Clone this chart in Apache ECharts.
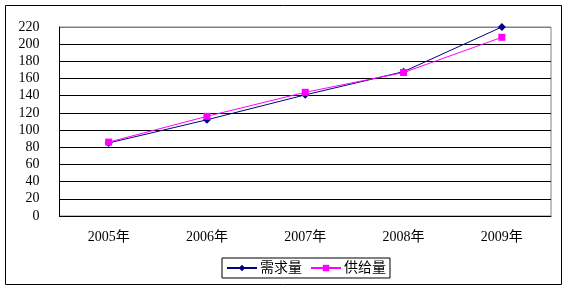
<!DOCTYPE html>
<html><head><meta charset="utf-8">
<script src="https://cdn.jsdelivr.net/npm/echarts@6/dist/echarts.min.js"></script>
<style>html,body{margin:0;padding:0;background:#fff}#c{width:568px;height:290px}</style>
</head><body><div id="c"></div>
<script>
const categories = ['2005年','2006年','2007年','2008年','2009年'];
const demand = [85, 112, 141, 168, 220];
const supply = [86, 116, 144, 167, 208];
const yTicks = {min: 0, max: 220, interval: 20};
const FONT = "'Liberation Serif','Noto Sans CJK SC',serif";
const gridColors = ['#000','#000','#000','#000','#000','#000','#000','#000','#000','#000','#000','#808080'];
const chart = echarts.init(document.getElementById('c'), null, {renderer: 'canvas'});
chart.setOption({
  animation: false,
  backgroundColor: '#fff',
  graphic: [{type: 'rect', shape: {x: 5.5, y: 5.5, width: 556, height: 279}, style: {fill: 'none', stroke: '#000', lineWidth: 1}, z: -1}],
  grid: {left: 59.5, right: 17, top: 27, bottom: 74, show: true, borderColor: '#808080', borderWidth: 1, containLabel: false},
  legend: {
    left: 222, top: 258, orient: 'horizontal',
    borderColor: '#000', borderWidth: 1, borderRadius: 0,
    padding: [3, 4, 3, 4], itemGap: 8, itemWidth: 30, itemHeight: 8,
    textStyle: {fontFamily: FONT, fontSize: 14, color: '#000', padding: [0,0,0,-2]},
    data: ['需求量', '供给量']
  },
  xAxis: {
    type: 'category', data: categories, boundaryGap: true,
    axisLine: {lineStyle: {color: '#000', width: 1}},
    axisTick: {inside: true, length: 4, lineStyle: {color: '#000'}},
    axisLabel: {fontFamily: FONT, fontSize: 14, color: '#000', margin: 14},
    splitLine: {show: false}
  },
  yAxis: {
    type: 'value', min: yTicks.min, max: yTicks.max, interval: yTicks.interval,
    axisLine: {show: true, lineStyle: {color: '#000', width: 1}},
    axisTick: {show: false},
    axisLabel: {fontFamily: FONT, fontSize: 14, color: '#000', margin: 20},
    splitLine: {show: true, lineStyle: {color: gridColors, width: 1}}
  },
  series: [
    {name: '需求量', type: 'line', data: demand, symbol: 'diamond', symbolSize: 8,
     lineStyle: {color: '#000080', width: 1}, itemStyle: {color: '#000080'}},
    {name: '供给量', type: 'line', data: supply, symbol: 'rect', symbolSize: 7,
     lineStyle: {color: '#ff00ff', width: 1}, itemStyle: {color: '#ff00ff'}}
  ]
});
</script></body></html>
